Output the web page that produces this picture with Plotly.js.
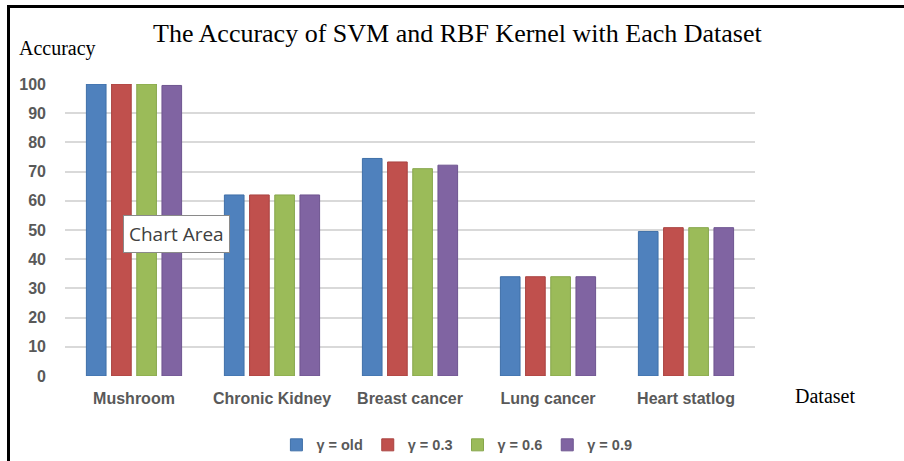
<!DOCTYPE html>
<html>
<head>
<meta charset="utf-8">
<script src="https://cdn.plot.ly/plotly-3.0.1.min.js"></script>
<style>
  html, body { margin: 0; padding: 0; background: #fff; }
  #wrap { position: relative; width: 904px; height: 461px; overflow: hidden; }
  #chart { position: absolute; left: 0; top: 0; width: 904px; height: 461px; }
  #frame { position: absolute; left: 7px; top: 5px; width: 900px; height: 460px;
           border-left: 3px solid #000; border-top: 3px solid #000; pointer-events: none; }
</style>
</head>
<body>
<div id="wrap">
  <div id="chart"></div>
  <div id="frame"></div>
</div>
<script>
const categories = ["Mushroom", "Chronic Kidney", "Breast cancer", "Lung cancer", "Heart statlog"];
const seriesNames = ["γ = old", "γ = 0.3", "γ = 0.6", "γ = 0.9"];
const gammaOld = [100, 62, 74.5, 34, 49.5];
const gamma03  = [100, 62, 73.3, 34, 50.8];
const gamma06  = [100, 62, 71.0, 34, 50.8];
const gamma09  = [99.5, 62, 72.2, 34, 50.8];
const yTicks = [0, 10, 20, 30, 40, 50, 60, 70, 80, 90, 100];

const colors = ["#4F81BD", "#C0504D", "#9BBB59", "#8064A2"];
const edges  = ["#3F6FA8", "#A94340", "#86A64B", "#6E5590"];
const seriesValues = [gammaOld, gamma03, gamma06, gamma09];

const traces = seriesValues.map((vals, i) => ({
  type: "bar",
  name: seriesNames[i],
  x: categories,
  y: vals,
  marker: { color: colors[i], line: { color: edges[i], width: 1 } },
  hoverinfo: "skip"
}));

const tickFont = { family: "Liberation Sans, Arial, sans-serif", size: 16, color: "#595959", weight: "bold" };

const layout = {
  width: 904, height: 461,
  margin: { l: 65, r: 149, t: 84, b: 85, autoexpand: false },
  paper_bgcolor: "#ffffff",
  plot_bgcolor: "#ffffff",
  barmode: "group",
  bargap: 0.27,
  bargroupgap: 0.22,
  showlegend: true,
  title: {
    text: "The Accuracy of SVM and RBF Kernel with Each Dataset",
    font: { family: "Liberation Serif, Times New Roman, serif", size: 26, color: "#000" },
    xref: "container", x: 0.506, xanchor: "center",
    yref: "container", y: 0.928, yanchor: "middle"
  },
  xaxis: {
    type: "category",
    tickfont: tickFont,
    showgrid: false,
    showline: false,
    ticks: "",
    ticklabelstandoff: 11,
    automargin: false,
    fixedrange: true
  },
  yaxis: {
    range: [0, 100],
    tickvals: yTicks,
    ticktext: yTicks.map(String),
    tickfont: tickFont,
    showgrid: true,
    gridcolor: "#D9D9D9",
    gridwidth: 2,
    zeroline: false,
    showline: false,
    ticks: "",
    ticklabelstandoff: 18,
    automargin: false,
    fixedrange: true
  },
  legend: {
    orientation: "h",
    x: 0.568, xanchor: "center",
    y: -0.236, yanchor: "middle",
    font: { family: "Liberation Sans, Arial, sans-serif", size: 14.5, color: "#595959", weight: "bold" },
    itemwidth: 30,
    traceorder: "normal"
  },
  annotations: [
    { text: "Accuracy", xref: "paper", yref: "paper", x: -0.07, y: 1.12, xanchor: "left", yanchor: "middle",
      showarrow: false, font: { family: "Liberation Serif, Times New Roman, serif", size: 20, color: "#000" } },
    { text: "Dataset", xref: "paper", yref: "paper", x: 1.055, y: -0.068, xanchor: "left", yanchor: "middle",
      showarrow: false, font: { family: "Liberation Serif, Times New Roman, serif", size: 20, color: "#000" } },
    { text: "Chart Area", xref: "paper", yref: "paper", x: 0.162, y: 0.486, xanchor: "center", yanchor: "middle",
      showarrow: false, bgcolor: "#ffffff", bordercolor: "#8a8a8a", borderwidth: 1, borderpad: 5,
      font: { family: "Open Sans, Liberation Sans, sans-serif", size: 19, color: "#404040" } }
  ]
};

Plotly.newPlot("chart", traces, layout, { displayModeBar: false, staticPlot: true });
</script>
</body>
</html>
